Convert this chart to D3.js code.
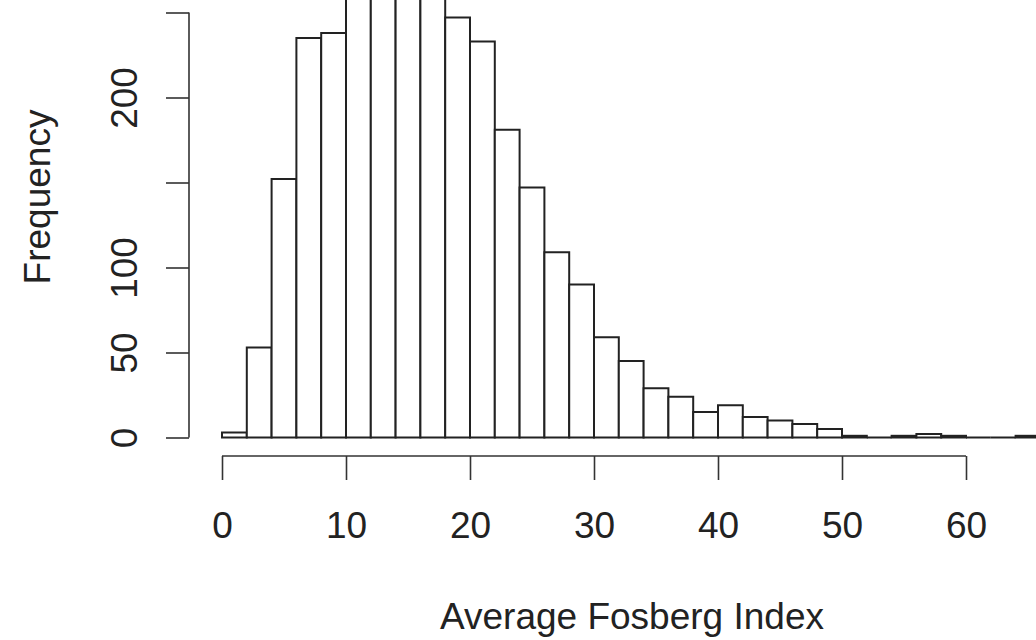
<!DOCTYPE html>
<html>
<head>
<meta charset="utf-8">
<script src="https://cdn.jsdelivr.net/npm/d3@7"></script>
<style>
  body { margin: 0; background: #fff; }
  svg { display: block; overflow: hidden; }
  text { font-family: "Liberation Sans", Arial, sans-serif; fill: #222; }
</style>
</head>
<body>
<div id="Histo"></div>
<script>
// histogram bin edges and counts
var breaks = [0, 2, 4, 6, 8, 10, 12, 14, 16, 18, 20, 22, 24, 26, 28, 30, 32,
              34, 36, 38, 40, 42, 44, 46, 48, 50, 52, 54, 56, 58, 60, 62, 64, 66];
var counts = [3, 53, 152, 235, 238, 285, 298, 292, 268, 247, 233, 181, 147, 109, 90, 59,
              45, 29, 24, 15, 19, 12, 10, 8, 5, 1, 0, 1, 2, 1, 0, 0, 1];

var xTicks = [0, 10, 20, 30, 40, 50, 60];
var yTicks = [0, 50, 100, 150, 200, 250];
var yTickLabels = ["0", "50", "100", "", "200", ""];   // R drops the ones that overlap

var width = 1036, height = 640;

var svg = d3.select("#Histo")
  .append("svg")
    .attr("width", width)
    .attr("height", height);

var x = d3.scaleLinear()
    .domain([0, 60])
    .range([222, 966]);

var y = d3.scaleLinear()
    .domain([0, 250])
    .range([437.5, 12.5]);

// bars - drawn as paths so empty bins still leave a line on the baseline
var bins = counts.map(function(c, i) { return {x0: breaks[i], x1: breaks[i + 1], n: c}; });

svg.append("g")
  .selectAll("path")
  .data(bins)
  .enter()
  .append("path")
    .attr("d", function(d) {
      return "M" + x(d.x0) + "," + y(0) + "V" + y(d.n) + "H" + x(d.x1) + "V" + y(0) + "Z";
    })
    .style("fill", "#fff")
    .style("stroke", "#222")
    .style("stroke-width", 2);

// X axis
var gx = svg.append("g")
    .attr("transform", "translate(0,456)")
    .call(d3.axisBottom(x).tickValues(xTicks).tickSize(24).tickSizeOuter(0));
gx.select(".domain").attr("d", "M" + x(0) + ",0H" + x(60));
gx.selectAll("line, path").style("stroke", "#333").style("stroke-width", 1.6);
gx.selectAll(".tick text")
    .attr("y", 82)
    .attr("dy", 0)
    .style("font-size", "37px")
    .style("font-family", "Liberation Sans, Arial, sans-serif")
    .style("fill", "#222");

// Y axis
var gy = svg.append("g")
    .attr("transform", "translate(189,0)")
    .call(d3.axisLeft(y).tickValues(yTicks)
      .tickFormat(function(d, i) { return yTickLabels[i]; })
      .tickSize(23).tickSizeOuter(0));
gy.select(".domain").attr("d", "M0," + y(0) + "V" + y(250));
gy.selectAll("line, path").style("stroke", "#333").style("stroke-width", 1.6);
gy.selectAll(".tick text")
    .attr("x", 0)
    .attr("dy", 0)
    .attr("transform", "translate(-52,0) rotate(-90)")
    .attr("text-anchor", "middle")
    .style("font-size", "37px")
    .style("font-family", "Liberation Sans, Arial, sans-serif")
    .style("fill", "#222");

// axis titles
svg.append("text")
    .attr("x", 632)
    .attr("y", 629)
    .attr("text-anchor", "middle")
    .style("font-size", "37px")
    .text("Average Fosberg Index");

svg.append("text")
    .attr("transform", "translate(50,197) rotate(-90)")
    .attr("text-anchor", "middle")
    .style("font-size", "37px")
    .text("Frequency");
</script>
</body>
</html>
